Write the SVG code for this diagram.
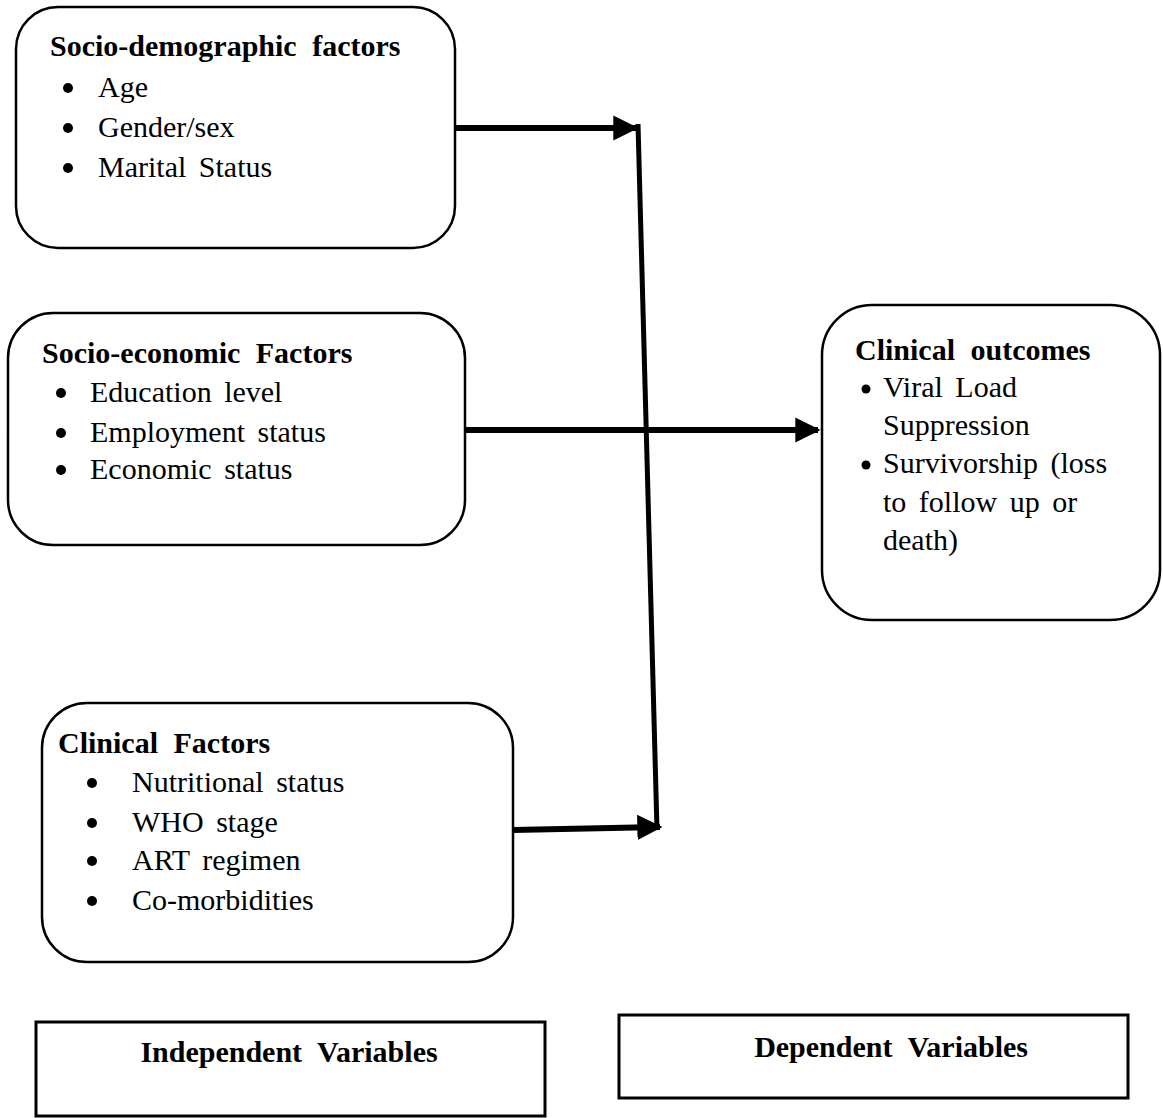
<svg xmlns="http://www.w3.org/2000/svg" width="1163" height="1118" viewBox="0 0 1163 1118">
<defs>
<style>
.box{fill:#fff;stroke:#000;stroke-width:2.5}
.lab{fill:#fff;stroke:#000;stroke-width:3}
.t{font-family:"Liberation Serif","Times New Roman",serif;font-size:30px;fill:#000;word-spacing:5px}
.b{font-weight:bold;word-spacing:8px}
.c{fill:none;stroke:#000;stroke-width:6}
</style>
<marker id="ah" viewBox="0 0 10 10" refX="9" refY="5" markerWidth="4.2" markerHeight="4.2" orient="auto" markerUnits="strokeWidth">
<path d="M0,0 L10,5 L0,10 Z" fill="#000"/>
</marker>
</defs>
<rect width="1163" height="1118" fill="#fff"/>
<g id="connectors">
<line class="c" x1="455" y1="128" x2="636" y2="128" marker-end="url(#ah)"/>
<line class="c" x1="638" y1="124" x2="657" y2="830" style="stroke-width:5"/>
<line class="c" x1="465" y1="430" x2="818" y2="430" marker-end="url(#ah)"/>
<line class="c" x1="513" y1="830" x2="660" y2="827" marker-end="url(#ah)"/>
</g>
<g id="socio-demographic">
<rect class="box" x="16" y="7" width="439" height="241" rx="42"/>
<text class="t b" x="50" y="56">Socio-demographic factors</text>
<circle cx="68" cy="88" r="5"/><text class="t" x="98" y="97">Age</text>
<circle cx="68" cy="128" r="5"/><text class="t" x="98" y="137">Gender/sex</text>
<circle cx="68" cy="168" r="5"/><text class="t" x="98" y="177">Marital Status</text>
</g>
<g id="socio-economic">
<rect class="box" x="8" y="313" width="457" height="232" rx="45"/>
<text class="t b" x="42" y="363">Socio-economic Factors</text>
<circle cx="61" cy="393" r="5"/><text class="t" x="90" y="402">Education level</text>
<circle cx="61" cy="433" r="5"/><text class="t" x="90" y="442">Employment status</text>
<circle cx="61" cy="470" r="5"/><text class="t" x="90" y="479">Economic status</text>
</g>
<g id="clinical-outcomes">
<rect class="box" x="822" y="305" width="338" height="315" rx="50"/>
<text class="t b" x="855" y="360">Clinical outcomes</text>
<circle cx="866" cy="389" r="4.5"/><text class="t" x="883" y="397">Viral Load</text>
<text class="t" x="883" y="435">Suppression</text>
<circle cx="866" cy="465" r="4.5"/><text class="t" x="883" y="473">Survivorship (loss</text>
<text class="t" x="883" y="512">to follow up or</text>
<text class="t" x="883" y="550">death)</text>
</g>
<g id="clinical-factors">
<rect class="box" x="42" y="703" width="471" height="259" rx="45"/>
<text class="t b" x="58" y="753">Clinical Factors</text>
<circle cx="92" cy="783" r="5"/><text class="t" x="132" y="792">Nutritional status</text>
<circle cx="92" cy="823" r="5"/><text class="t" x="132" y="832">WHO stage</text>
<circle cx="92" cy="861" r="5"/><text class="t" x="132" y="870">ART regimen</text>
<circle cx="92" cy="901" r="5"/><text class="t" x="132" y="910">Co-morbidities</text>
</g>
<g id="independent">
<rect class="lab" x="36" y="1022" width="509" height="94"/>
<text class="t b" x="289" y="1062" text-anchor="middle">Independent Variables</text>
</g>
<g id="dependent">
<rect class="lab" x="619" y="1015" width="509" height="83"/>
<text class="t b" x="1028" y="1057" text-anchor="end">Dependent Variables</text>
</g>
</svg>
